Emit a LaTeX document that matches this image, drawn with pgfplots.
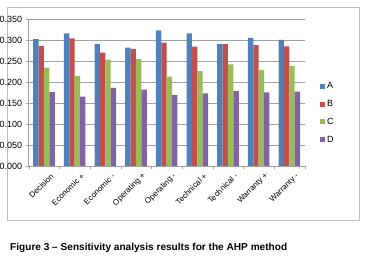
\documentclass[border=0pt]{standalone}
\usepackage{fontspec}
\setmainfont{Liberation Sans}
\usepackage{pgfplots}
\pgfplotsset{compat=1.18}
\definecolor{cA}{HTML}{4F81BD}
\definecolor{cB}{HTML}{C0504D}
\definecolor{cC}{HTML}{9BBB59}
\definecolor{cD}{HTML}{8064A2}
\definecolor{gridc}{HTML}{A0A0A0}
\begin{document}
\begin{tikzpicture}
\useasboundingbox (0pt,0pt) rectangle (365pt,256pt);
\draw[color=gridc!70, line width=0.8pt] (7pt,36pt) rectangle (359pt,249pt);
\begin{axis}[
  at={(44pt,90pt)}, anchor=origin,
  scale only axis, width=276pt, height=147pt,
  ybar=0pt, bar width=5.4pt,
  ymin=0, ymax=0.35, ytick={0,0.05,...,0.351},
  xmin=-0.5, xmax=8.5,
  xtick={0,...,8},
  xticklabels={Decision,Economic +,Economic -,Operating +,Operating -,Technical +,Technical -,Warranty +,Warranty -},
  xticklabel style={xshift=9pt, yshift=-5pt, rotate=45, anchor=east, font=\fontsize{8}{9}\selectfont, inner sep=1pt},
  yticklabel style={font=\fontsize{9}{10}\selectfont},
  /pgf/number format/assume math mode=true,
  yticklabel={\pgfmathprintnumber[fixed,fixed zerofill,precision=3]{\tick}},
  scaled y ticks=false,
  axis x line*=bottom, axis y line*=left,
  axis line style={gridc, -},
  ymajorgrids, grid style={gridc, line width=0.6pt},
  major x tick style={draw=none},
  minor xtick={-0.5,0.5,...,8.5},
  minor x tick style={gridc},
  tick align=outside,
  major tick length=3pt, minor tick length=3pt,
  y tick style={gridc},
  legend style={draw=none, at={(1.055,0.36)}, anchor=west, font=\fontsize{9}{10}\selectfont, row sep=6pt, inner sep=0pt},
  legend cell align=left,
  legend image code/.code={\fill[#1] (0pt,-2.5pt) rectangle (5pt,2.5pt);},
  every axis plot/.append style={draw=none},
]
\addplot[fill=cA] coordinates {(0,0.302) (1,0.316) (2,0.290) (3,0.282) (4,0.323) (5,0.316) (6,0.290) (7,0.305) (8,0.300)};
\addplot[fill=cB] coordinates {(0,0.286) (1,0.304) (2,0.270) (3,0.279) (4,0.294) (5,0.284) (6,0.290) (7,0.288) (8,0.285)};
\addplot[fill=cC] coordinates {(0,0.234) (1,0.214) (2,0.253) (3,0.255) (4,0.213) (5,0.226) (6,0.242) (7,0.229) (8,0.238)};
\addplot[fill=cD] coordinates {(0,0.176) (1,0.165) (2,0.186) (3,0.182) (4,0.169) (5,0.173) (6,0.179) (7,0.175) (8,0.177)};
\legend{A,B,C,D}
\end{axis}
\node[anchor=base west, inner sep=0pt] at (10pt,5pt) {\resizebox{277pt}{!}{\fontsize{10}{11}\selectfont\bfseries Figure 3 -- Sensitivity analysis results for the AHP method}};
\end{tikzpicture}
\end{document}
